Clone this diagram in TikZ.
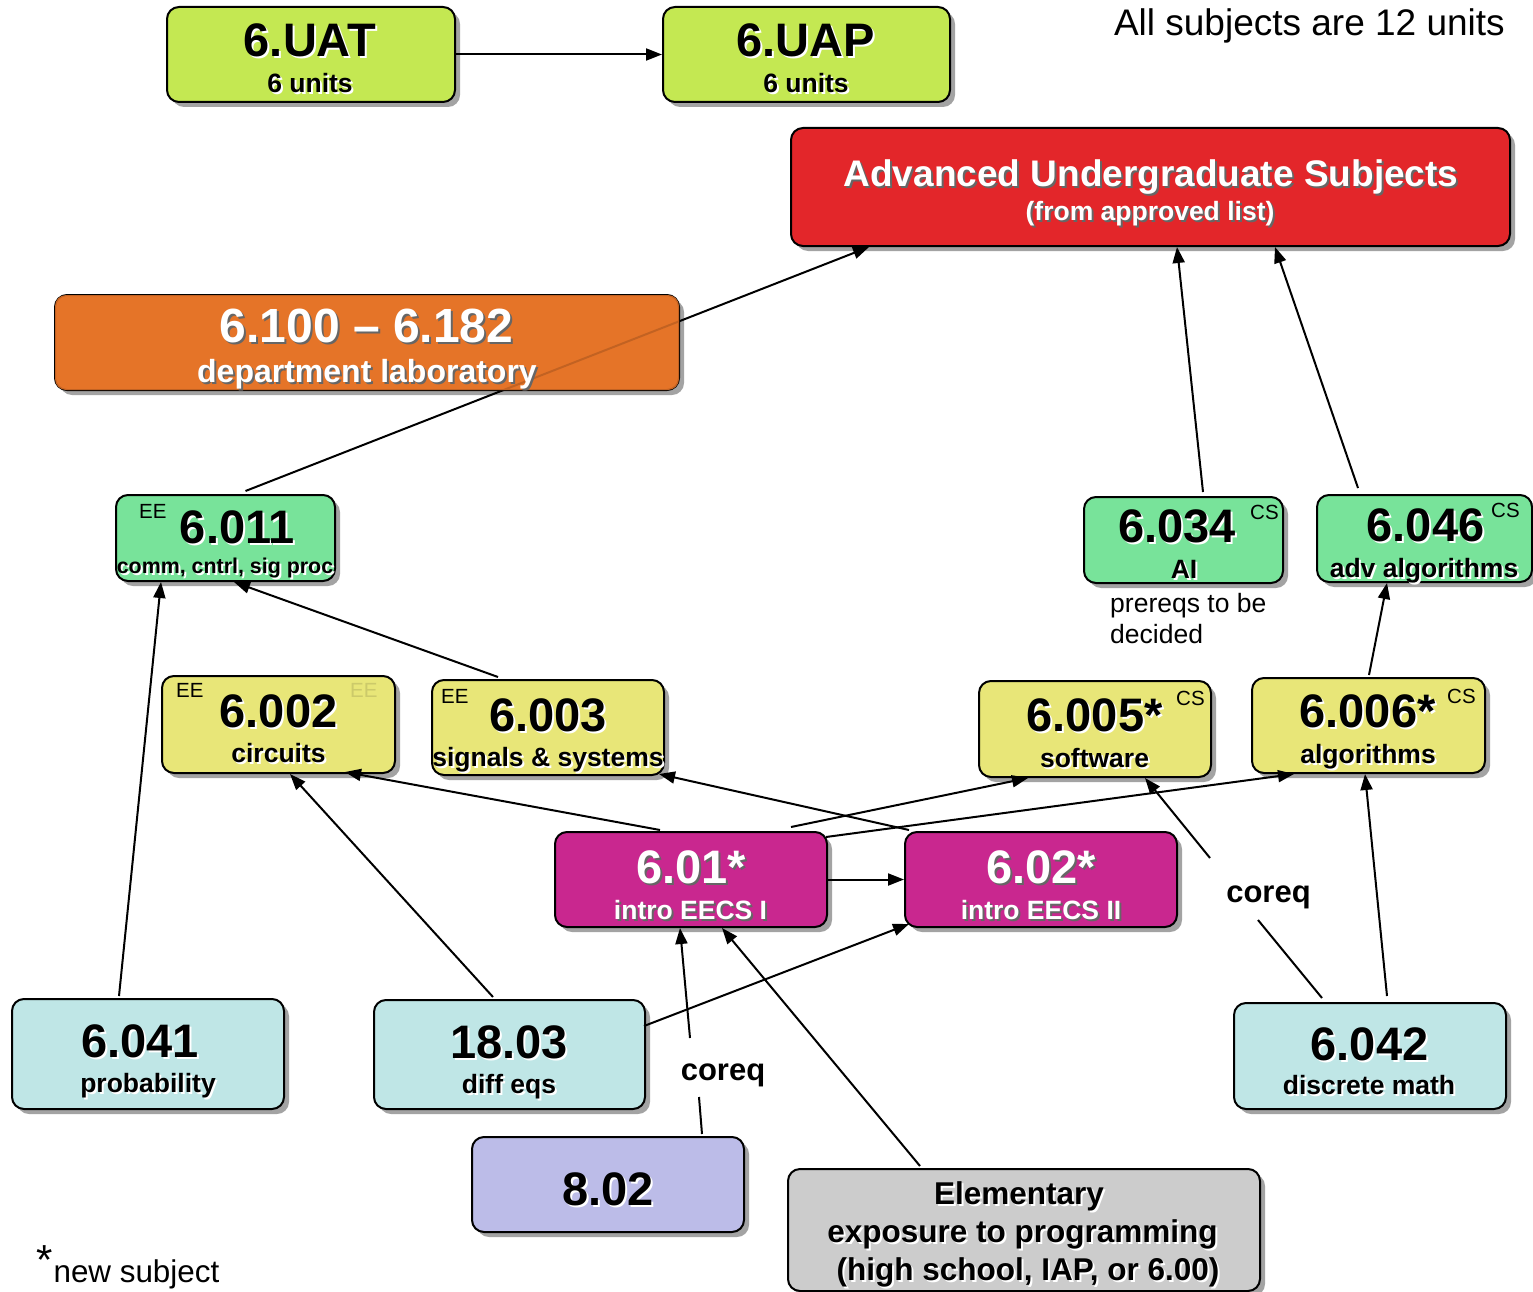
\documentclass[tikz,border=0pt]{standalone}
\usepackage{fontspec}
\setmainfont{Liberation Sans}
\usetikzlibrary{arrows.meta,shadows}
\pgfdeclarelayer{fg}
\pgfsetlayers{main,fg}
\definecolor{cLime}{RGB}{196,232,82}
\definecolor{cRed}{RGB}{227,38,42}
\definecolor{cOrange}{RGB}{229,116,40}
\definecolor{cGreen}{RGB}{120,227,154}
\definecolor{cYellow}{RGB}{232,230,120}
\definecolor{cMag}{RGB}{201,39,143}
\definecolor{cCyan}{RGB}{191,230,230}
\definecolor{cLav}{RGB}{188,188,232}
\definecolor{cGray}{RGB}{204,204,204}
\newcommand\shd[2]{\rlap{\kern2pt\raisebox{-2pt}{\textcolor{#1}{#2}}}#2}
\newcommand\wsh[1]{\shd{white}{#1}}
\newcommand\dsh[1]{\shd{black!60}{#1}}
\tikzset{
  box/.style={draw=black, line width=2pt, rounded corners=12pt, inner sep=0pt,
    drop shadow={shadow xshift=5pt, shadow yshift=-5pt, fill=black!45, opacity=0.8}},
  ttl/.style={anchor=base, inner sep=0pt, font=\fontsize{47}{47}\selectfont\bfseries},
  subt/.style={anchor=base, inner sep=0pt, font=\fontsize{26.5}{26.5}\selectfont\bfseries},
  tag/.style={anchor=base west, inner sep=0pt, font=\fontsize{20.5}{20.5}\selectfont},
  plain/.style={anchor=base, inner sep=0pt},
  arr/.style={-{Triangle[length=16pt,width=12pt]}, line width=2pt},
  ln/.style={line width=2pt}
}
\begin{document}
\begin{tikzpicture}[x=1pt,y=-1pt]
\useasboundingbox (0,0) rectangle (1533,1292);

% ---- boxes ----
\node[box, fill=cLime, minimum width=288pt, minimum height=95pt] (uat) at (311,54.5) {};
\node[box, fill=cLime, minimum width=287pt, minimum height=95pt] (uap) at (806.5,54.5) {};
\node[box, fill=cRed, minimum width=719pt, minimum height=118pt] (adv) at (1150.5,187) {};
\node[box, fill=cOrange, minimum width=624pt, minimum height=95pt] (lab) at (367,342.5) {};
\node[box, fill=cGreen, minimum width=219pt, minimum height=86pt] (b6011) at (225.5,538) {};
\node[box, fill=cGreen, minimum width=199pt, minimum height=86pt] (b6034) at (1183.5,540) {};
\node[box, fill=cGreen, minimum width=215pt, minimum height=87pt] (b6046) at (1424.5,538.5) {};
\node[box, fill=cYellow, minimum width=233pt, minimum height=97pt] (b6002) at (278.5,724.5) {};
\node[box, fill=cYellow, minimum width=232pt, minimum height=95pt] (b6003) at (548,727.5) {};
\node[box, fill=cYellow, minimum width=232pt, minimum height=96pt] (b6005) at (1095,729) {};
\node[box, fill=cYellow, minimum width=233pt, minimum height=95pt] (b6006) at (1368.5,725.5) {};
\node[box, fill=cMag, minimum width=272pt, minimum height=95pt] (b601) at (691,879.5) {};
\node[box, fill=cMag, minimum width=272pt, minimum height=95pt] (b602) at (1041,879.5) {};
\node[box, fill=cCyan, minimum width=272pt, minimum height=110pt] (b6041) at (148,1054) {};
\node[box, fill=cCyan, minimum width=271pt, minimum height=109pt] (b1803) at (509.5,1054.5) {};
\node[box, fill=cCyan, minimum width=272pt, minimum height=106pt] (b6042) at (1370,1056) {};
\node[box, fill=cLav, minimum width=272pt, minimum height=95pt] (b802) at (608,1184.5) {};
\node[box, fill=cGray, minimum width=472pt, minimum height=122pt] (belem) at (1024,1230) {};

% ---- coreq labels and gap coordinates ----
\node[plain, font=\fontsize{31}{31}\selectfont\bfseries] (coreqA) at (1268.5,902) {coreq};
\node[plain, font=\fontsize{31}{31}\selectfont\bfseries] (coreqB) at (723,1080) {coreq};
\coordinate (qAlo) at (1258,920);
\coordinate (qAhi) at (1210,858);
\coordinate (qBlo) at (699,1097);
\coordinate (qBhi) at (690,1038);

% ---- connectors ----
\draw[arr] (uat) -- (uap);
\draw[arr] ([shift={(20,-3)}]b6011.north) -- ([shift={(79,0)}]adv.south west);
\draw[arr] ([shift={(19.5,-4)}]b6034.north) -- ([shift={(387,0)}]adv.south west);
\draw[arr] ([shift={(-66.5,-6)}]b6046.north) -- ([shift={(485,0)}]adv.south west);
\draw[arr] ([shift={(0.5,-2)}]b6006.north) -- ([shift={(-37.5,0)}]b6046.south);
\draw[arr] ([shift={(-29,-2)}]b6041.north) -- ([shift={(-64.5,0)}]b6011.south);
\draw[arr] ([shift={(-50,-2)}]b6003.north) -- ([shift={(8.5,0)}]b6011.south);
\draw[arr] ([shift={(-16.5,-2)}]b1803.north) -- ([shift={(11.5,0)}]b6002.south);
\draw[arr] ([shift={(-31,-1)}]b601.north) -- ([shift={(66.5,-2)}]b6002.south);
\draw[arr] ([shift={(5,-1)}]b602.north west) -- ([shift={(-6,-2)}]b6003.south east);
\draw[arr] ([shift={(100,-4)}]b601.north) -- ([shift={(-67,0)}]b6005.south);
\draw[arr] ([shift={(-2,6)}]b601.north east) -- ([shift={(-74.5,0)}]b6006.south);
\draw[arr] (b601) -- (b602);
\draw[arr] ([shift={(-2,27)}]b1803.north east) -- ([shift={(5,-4)}]b602.south west);
\draw[ln] ([shift={(94,-2)}]b802.north) -- (qBlo);
\draw[arr] (qBhi) -- ([shift={(-11,0)}]b601.south);
\draw[arr] ([shift={(133,-2)}]belem.north west) -- ([shift={(31,0)}]b601.south);
\draw[arr] ([shift={(17,-6)}]b6042.north) -- ([shift={(-3.5,0)}]b6006.south);
\draw[ln] ([shift={(-48,-4)}]b6042.north) -- (qAlo);
\draw[arr] (qAhi) -- ([shift={(50,0)}]b6005.south);

% ---- texts ----
\node[ttl] (uatT) at (310,57) {\wsh{6.UAT}};
\node[subt] (uatS) at (310,93) {\wsh{6 units}};
\node[ttl] (uapT) at (806,57) {\wsh{6.UAP}};
\node[subt] (uapS) at (806,93) {\wsh{6 units}};
\node[anchor=base east, inner sep=0pt, font=\fontsize{37}{37}\selectfont] (note) at (1505,36) {All subjects are 12 units};

\node[ttl, text=white, font=\fontsize{37}{37}\selectfont\bfseries] (advT) at (1151,186) {\dsh{Advanced Undergraduate Subjects}};
\node[subt, text=white] (advS) at (1150,220) {\dsh{(from approved list)}};

\begin{pgfonlayer}{fg}
\fill[cOrange, opacity=0.85, rounded corners=11pt] ([shift={(1,1)}]lab.north west) rectangle ([shift={(-1,-1)}]lab.south east);
\node[ttl, text=white, font=\fontsize{48}{48}\selectfont\bfseries] (labT) at (366.5,342) {\dsh{6.100 -- 6.182}};
\node[subt, text=white, font=\fontsize{32}{32}\selectfont\bfseries] (labS) at (367,382) {\dsh{department laboratory}};
\end{pgfonlayer}

\node[ttl] (t6011) at (237.5,543) {\wsh{6.011}};
\node[subt, font=\fontsize{21.4}{21.4}\selectfont\bfseries] (s6011) at (225,573) {\wsh{comm, cntrl, sig proc}};
\node[tag] (e6011) at (139,518) {EE};

\node[ttl] (t6034) at (1177,542) {\wsh{6.034}};
\node[subt] (s6034) at (1184,578) {\wsh{AI}};
\node[tag] (c6034) at (1250,519) {CS};
\node[anchor=base west, inner sep=0pt, font=\fontsize{26.5}{26.5}\selectfont] (pre1) at (1110,612) {prereqs to be};
\node[anchor=base west, inner sep=0pt, font=\fontsize{26.5}{26.5}\selectfont] (pre2) at (1110,643) {decided};

\node[ttl] (t6046) at (1425.5,541) {\wsh{6.046}};
\node[subt] (s6046) at (1424,577) {\wsh{adv algorithms}};
\node[tag] (c6046) at (1491,517) {CS};

\node[ttl] (t6002) at (278.5,727) {\wsh{6.002}};
\node[subt] (s6002) at (278.5,762) {\wsh{circuits}};
\node[tag] (e6002) at (176,697) {EE};
\node[tag, text=cYellow!88!black] (f6002) at (350,697) {EE};

\node[ttl] (t6003) at (548,731) {\wsh{6.003}};
\node[subt] (s6003) at (548,766) {\wsh{signals \& systems}};
\node[tag] (e6003) at (441,703) {EE};

\node[ttl] (t6005) at (1094.5,731) {\wsh{6.005*}};
\node[subt] (s6005) at (1094.5,767) {\wsh{software}};
\node[tag] (c6005) at (1176,705) {CS};

\node[ttl] (t6006) at (1367.5,727) {\wsh{6.006*}};
\node[subt] (s6006) at (1368,763) {\wsh{algorithms}};
\node[tag] (c6006) at (1447,703) {CS};

\node[ttl, text=white] (t601) at (691,883) {\dsh{6.01*}};
\node[subt, text=white] (s601) at (690.5,919) {\dsh{intro EECS I}};
\node[ttl, text=white] (t602) at (1041,883) {\dsh{6.02*}};
\node[subt, text=white] (s602) at (1041,919) {\dsh{intro EECS II}};

\node[ttl] (t6041) at (140,1057) {\wsh{6.041}};
\node[subt] (s6041) at (148,1092) {\wsh{probability}};
\node[ttl] (t1803) at (509,1058) {\wsh{18.03}};
\node[subt] (s1803) at (509,1093) {\wsh{diff eqs}};
\node[ttl] (t6042) at (1369.5,1060) {\wsh{6.042}};
\node[subt] (s6042) at (1369,1094) {\wsh{discrete math}};
\node[ttl] (t802) at (608,1205) {\wsh{8.02}};

\node[subt, font=\fontsize{31.5}{31.5}\selectfont\bfseries] (el1) at (1019,1204) {\wsh{Elementary}};
\node[subt, font=\fontsize{31.5}{31.5}\selectfont\bfseries] (el2) at (1022.5,1242) {\wsh{exposure to programming}};
\node[subt, font=\fontsize{31.5}{31.5}\selectfont\bfseries] (el3) at (1028,1280) {\wsh{(high school, IAP, or 6.00)}};

\node[anchor=base west, inner sep=0pt, font=\fontsize{31.4}{31.4}\selectfont] (newsub) at (36,1282) {\raisebox{8pt}{\fontsize{42}{42}\selectfont *}\kern1pt new subject};
\end{tikzpicture}
\end{document}
